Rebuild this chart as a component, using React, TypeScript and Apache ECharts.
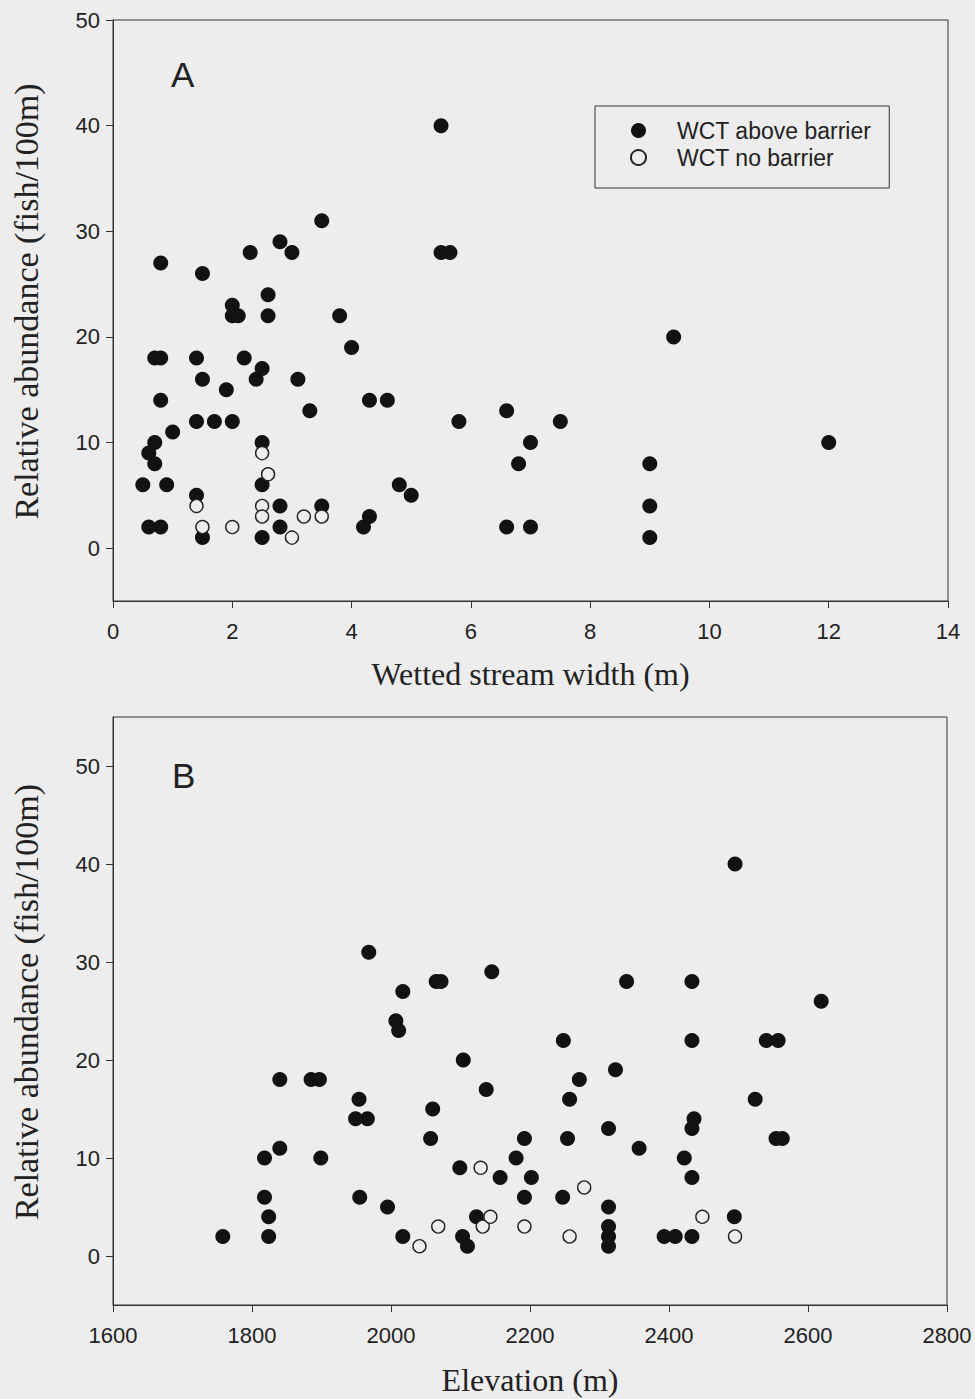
import React, { useEffect, useRef } from "react";
import * as echarts from "echarts";

// Panel A: wetted stream width (m) vs relative abundance (fish/100m)
const widthAbove: [number, number][] = [
  [0.5, 6], [0.6, 9], [0.6, 2], [0.7, 18], [0.7, 10], [0.7, 8], [0.8, 18], [0.8, 27],
  [0.8, 14], [0.8, 2], [0.9, 6], [1.0, 11], [1.4, 18], [1.4, 12], [1.4, 5], [1.5, 26],
  [1.5, 16], [1.5, 1], [1.7, 12], [1.9, 15], [2.0, 23], [2.0, 22], [2.0, 12], [2.1, 22],
  [2.2, 18], [2.3, 28], [2.4, 16], [2.5, 17], [2.5, 10], [2.5, 6], [2.5, 1], [2.6, 24],
  [2.6, 22], [2.8, 29], [2.8, 4], [2.8, 2], [3.0, 28], [3.1, 16], [3.3, 13], [3.5, 31],
  [3.5, 4], [3.8, 22], [4.0, 19], [4.2, 2], [4.3, 14], [4.3, 3], [4.6, 14], [4.8, 6],
  [5.0, 5], [5.5, 40], [5.5, 28], [5.65, 28], [5.8, 12], [6.6, 13], [6.6, 2], [6.8, 8],
  [7.0, 10], [7.0, 2], [7.5, 12], [9.0, 8], [9.0, 4], [9.0, 1], [9.4, 20], [12.0, 10],
];
const widthNoBarrier: [number, number][] = [
  [1.4, 4], [1.5, 2], [2.0, 2], [2.5, 9], [2.5, 4], [2.5, 3], [2.6, 7], [3.0, 1], [3.2, 3], [3.5, 3],
];

// Panel B: elevation (m) vs relative abundance (fish/100m)
const elevAbove: [number, number][] = [
  [1758, 2], [1818, 10], [1818, 6], [1824, 4], [1824, 2], [1840, 18], [1840, 11], [1885, 18],
  [1897, 18], [1899, 10], [1949, 14], [1954, 16], [1955, 6], [1966, 14], [1968, 31], [1995, 5],
  [2007, 24], [2011, 23], [2017, 27], [2017, 2], [2057, 12], [2060, 15], [2065, 28], [2072, 28],
  [2099, 9], [2103, 2], [2104, 20], [2110, 1], [2123, 4], [2137, 17], [2145, 29], [2157, 8],
  [2180, 10], [2192, 12], [2192, 6], [2202, 8], [2247, 6], [2248, 22], [2254, 12], [2257, 16],
  [2271, 18], [2313, 13], [2313, 5], [2313, 3], [2313, 2], [2313, 1], [2323, 19], [2339, 28],
  [2357, 11], [2393, 2], [2409, 2], [2422, 10], [2433, 28], [2433, 22], [2433, 13], [2436, 14],
  [2433, 8], [2433, 2], [2494, 4], [2495, 40], [2524, 16], [2540, 22], [2557, 22], [2554, 12],
  [2563, 12], [2619, 26],
];
const elevNoBarrier: [number, number][] = [
  [2041, 1], [2068, 3], [2129, 9], [2132, 3], [2143, 4], [2192, 3], [2257, 2], [2278, 7],
  [2448, 4], [2495, 2],
];

const yTickValues = [0, 10, 20, 30, 40, 50];
const seriesNames = ["WCT above barrier", "WCT no barrier"];
const panelLabels = ["A", "B"];
const xTitles = ["Wetted stream width (m)", "Elevation (m)"];
const yTitle = "Relative abundance (fish/100m)";

const BG = "#ededed";
const INK = "#121212";
const LINE = "#333333";
const SANS = "Liberation Sans, Arial, sans-serif";
const SERIF = "Liberation Serif, Times New Roman, serif";

export default function App() {
  const ref = useRef<HTMLDivElement>(null);

  useEffect(() => {
    document.body.style.margin = "0";
    if (!ref.current) return;
    const chart = echarts.init(ref.current, undefined, { renderer: "svg" });

    const plain = (v: number) => String(v);
    const axisCommon = {
      type: "value" as const,
      axisLine: { show: true, onZero: false, lineStyle: { color: LINE, width: 1 } },
      axisTick: { show: true, inside: false, length: 7, lineStyle: { color: LINE, width: 1 } },
      axisLabel: { color: "#222", fontSize: 22, fontFamily: SANS, formatter: plain },
      splitLine: { show: false },
      nameLocation: "middle" as const,
      nameTextStyle: { color: "#222", fontSize: 32, fontFamily: SERIF },
    };
    const yNameStyle = { color: "#222", fontSize: 34, fontFamily: SERIF, padding: [0, 0, 0, 18] };

    const filledStyle = { color: INK, opacity: 1 };
    const hollowStyle = { color: BG, borderColor: "#222", borderWidth: 1.4, opacity: 1 };

    chart.setOption({
      animation: false,
      backgroundColor: BG,
      grid: [
        { left: 113, top: 20, width: 835, height: 581, show: true, borderColor: LINE, borderWidth: 1, backgroundColor: "transparent" },
        { left: 113, top: 717, width: 834, height: 588, show: true, borderColor: LINE, borderWidth: 1, backgroundColor: "transparent" },
      ],
      xAxis: [
        {
          ...axisCommon, gridIndex: 0, min: 0, max: 14, interval: 2,
          axisLabel: { ...axisCommon.axisLabel, margin: 19 },
          name: xTitles[0], nameGap: 57,
        },
        {
          ...axisCommon, gridIndex: 1, min: 1600, max: 2800, interval: 200,
          axisLabel: { ...axisCommon.axisLabel, margin: 19 },
          name: xTitles[1], nameGap: 59,
        },
      ],
      yAxis: [
        {
          ...axisCommon, gridIndex: 0, min: -5, max: 50,
          axisLabel: { ...axisCommon.axisLabel, margin: 13, customValues: yTickValues },
          axisTick: { ...axisCommon.axisTick, customValues: yTickValues },
          name: yTitle, nameGap: 70, nameTextStyle: yNameStyle,
        },
        {
          ...axisCommon, gridIndex: 1, min: -5, max: 55,
          axisLabel: { ...axisCommon.axisLabel, margin: 13, customValues: yTickValues },
          axisTick: { ...axisCommon.axisTick, customValues: yTickValues },
          name: yTitle, nameGap: 70, nameTextStyle: yNameStyle,
        },
      ],
      legend: {
        orient: "vertical",
        left: 595,
        top: 106,
        data: seriesNames,
        itemWidth: 15,
        itemHeight: 15,
        itemGap: 4,
        padding: [13, 18, 19, 35],
        borderColor: LINE,
        borderWidth: 1,
        backgroundColor: "transparent",
        selectedMode: false,
        textStyle: { color: "#222", fontSize: 23, fontFamily: SANS, lineHeight: 22, padding: [0, 0, 0, 26] },
        icon: "circle",
      },
      graphic: [
        { type: "text", left: 171, top: 57, style: { text: panelLabels[0], font: `35px ${SANS}`, fill: "#222" } },
        { type: "text", left: 172, top: 758, style: { text: panelLabels[1], font: `35px ${SANS}`, fill: "#222" } },
      ],
      series: [
        { name: seriesNames[0], type: "scatter", xAxisIndex: 0, yAxisIndex: 0, data: widthAbove, symbol: "circle", symbolSize: 15, itemStyle: filledStyle },
        { name: seriesNames[1], type: "scatter", xAxisIndex: 0, yAxisIndex: 0, data: widthNoBarrier, symbol: "circle", symbolSize: 13, itemStyle: hollowStyle },
        { name: seriesNames[0], type: "scatter", xAxisIndex: 1, yAxisIndex: 1, data: elevAbove, symbol: "circle", symbolSize: 15, itemStyle: filledStyle },
        { name: seriesNames[1], type: "scatter", xAxisIndex: 1, yAxisIndex: 1, data: elevNoBarrier, symbol: "circle", symbolSize: 13, itemStyle: hollowStyle },
      ],
    });

    return () => chart.dispose();
  }, []);

  return <div ref={ref} style={{ width: 975, height: 1399 }} />;
}
